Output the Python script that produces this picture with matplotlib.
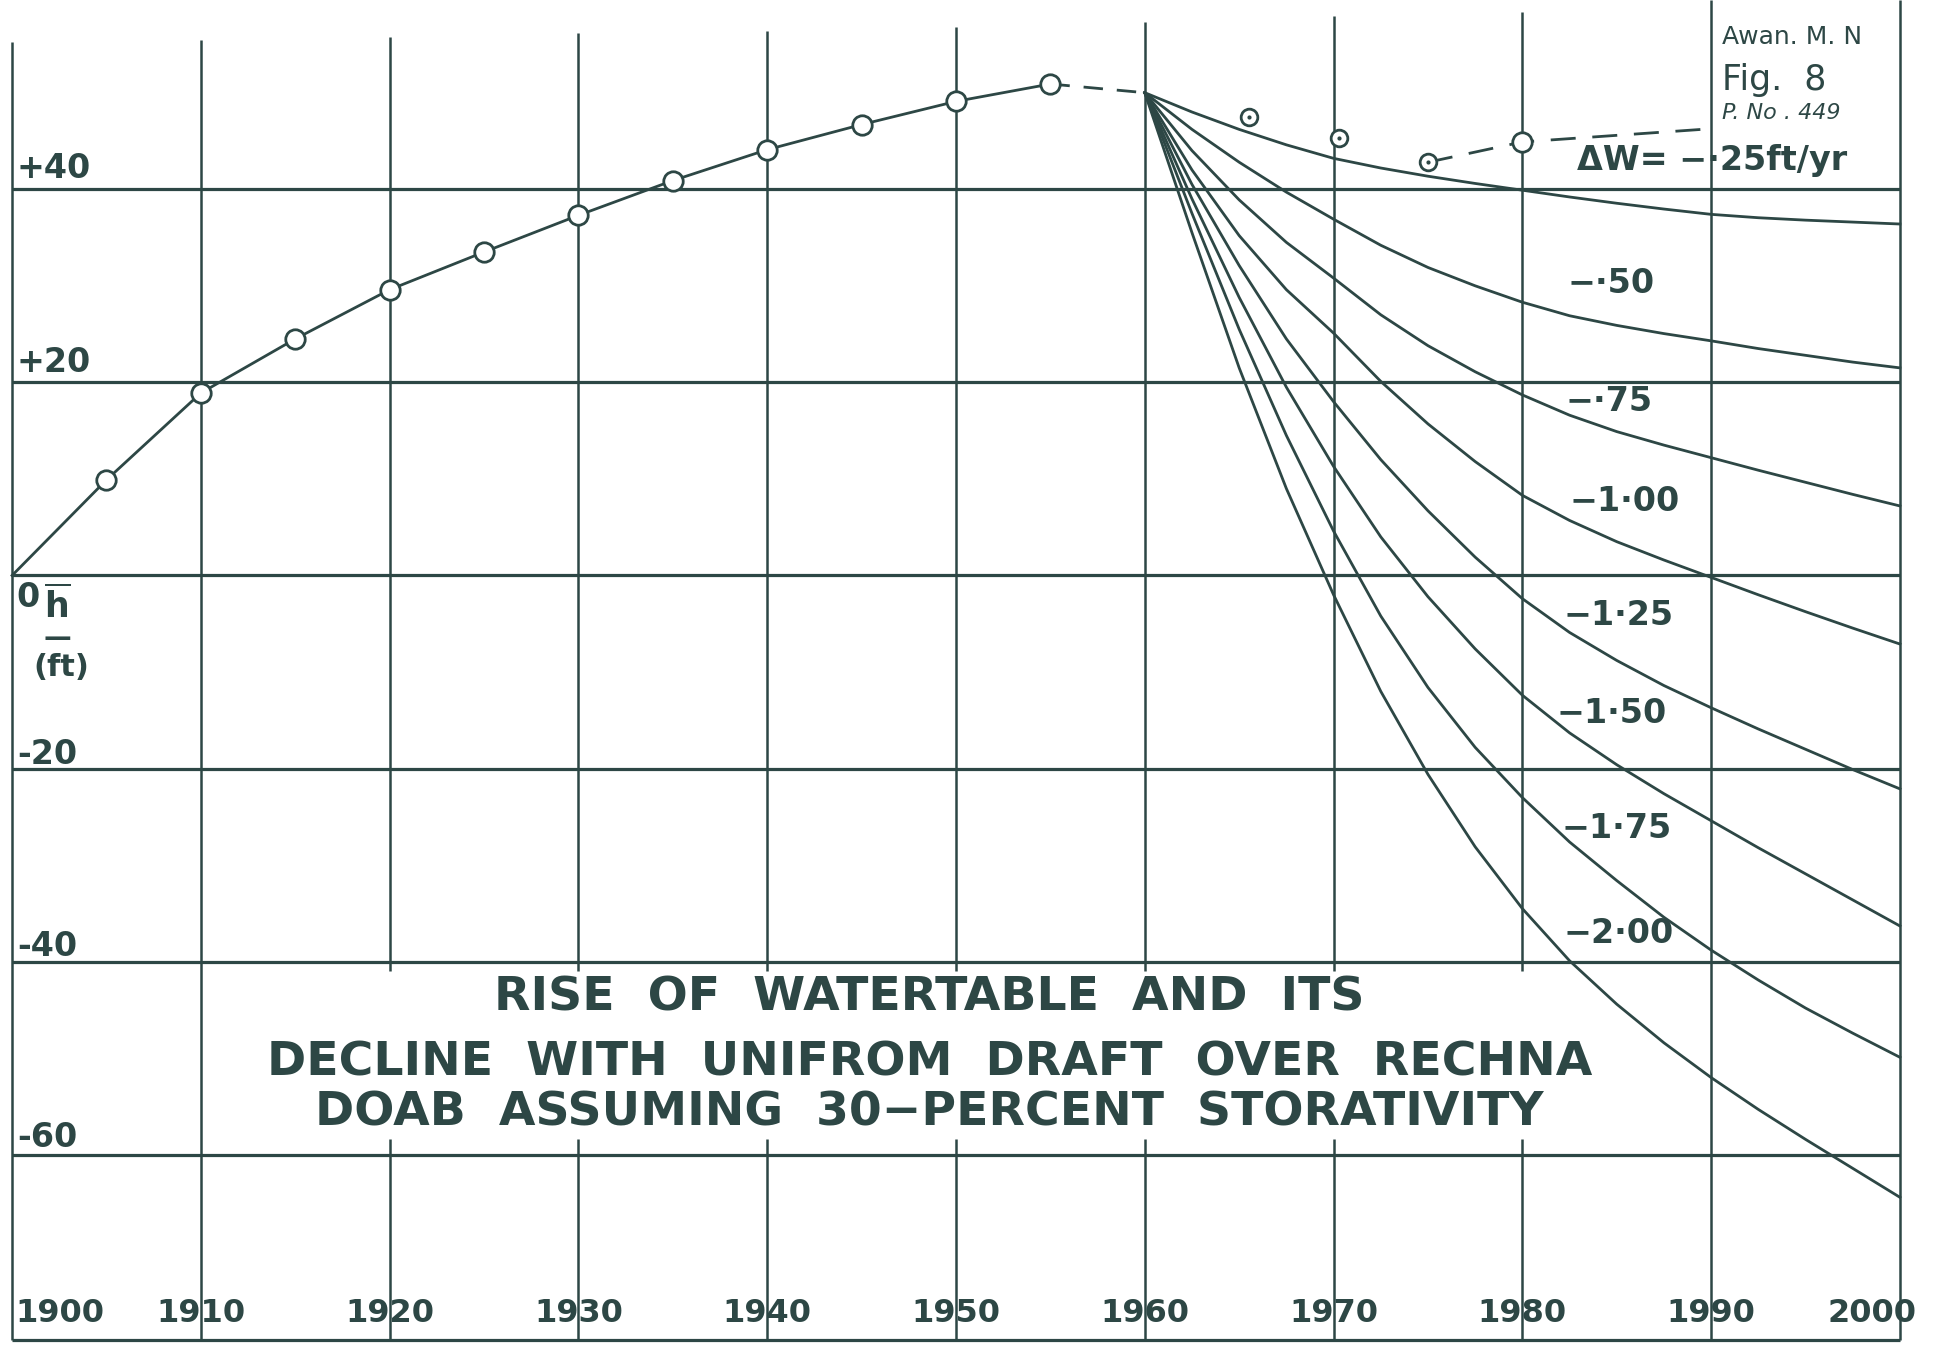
"""
Rise of watertable and its decline with uniform draft over Rechna Doab (Fig. 8)
"""
import matplotlib.pyplot as plt

# observed rise of the watertable, h (ft)
hist_years = [1900, 1905, 1910, 1915, 1920, 1925, 1930, 1935, 1940, 1945, 1950, 1955]
hist_h = [0, 9.9, 18.9, 24.5, 29.6, 33.5, 37.3, 40.9, 44.1, 46.7, 49.1, 50.9]

# dashed link from the last observed point to 1960
link_years = [1955, 1960]
link_h = [50.9, 50.0]

# later observations and their dashed trend
obs_years = [1965.5, 1970.3, 1975, 1980]
obs_h = [47.5, 45.3, 42.8, 44.9]
trend_years = [1975, 1980, 1989.5]
trend_h = [42.8, 44.9, 46.2]

# predicted decline after 1960 for each draft rate (read every 2.5 years)
fan_years = [1960, 1962.5, 1965, 1967.5, 1970, 1972.5, 1975, 1977.5, 1980,
             1982.5, 1985, 1987.5, 1990, 1992.5, 1995, 1997.5, 2000]
dw_025 = [50, 48.0, 46.2, 44.6, 43.2, 42.2, 41.35, 40.6, 39.9,
          39.2, 38.55, 37.95, 37.4, 37.05, 36.8, 36.6, 36.4]
dw_050 = [50, 46.2, 42.8, 39.7, 36.9, 34.2, 31.9, 30.0, 28.3,
          26.9, 25.9, 25.05, 24.3, 23.5, 22.8, 22.1, 21.5]
dw_075 = [50, 44.0, 38.9, 34.5, 30.8, 27.0, 23.8, 21.1, 18.7,
          16.6, 14.9, 13.5, 12.2, 10.9, 9.65, 8.4, 7.2]
dw_100 = [50, 42.0, 35.2, 29.6, 25.1, 20.1, 15.7, 11.8, 8.3,
          5.7, 3.5, 1.6, -0.2, -2.0, -3.75, -5.45, -7.1]
dw_125 = [50, 40.5, 32.1, 24.5, 18.0, 12.0, 6.7, 1.9, -2.4,
          -5.9, -8.8, -11.4, -13.7, -15.9, -18.0, -20.1, -22.1]
dw_150 = [50, 39.0, 28.8, 19.5, 11.3, 4.0, -2.2, -7.6, -12.4,
          -16.3, -19.6, -22.6, -25.4, -28.2, -30.9, -33.6, -36.3]
dw_175 = [50, 37.5, 25.5, 14.5, 4.6, -4.2, -11.6, -17.8, -23.0,
          -27.6, -31.6, -35.4, -38.8, -41.9, -44.8, -47.4, -49.9]
dw_200 = [50, 35.5, 21.5, 9.0, -2.0, -12.0, -20.6, -28.1, -34.5,
          -39.9, -44.4, -48.4, -52.0, -55.3, -58.4, -61.4, -64.4]
fan = [dw_025, dw_050, dw_075, dw_100, dw_125, dw_150, dw_175, dw_200]

curve_labels = ['ΔW= −·25ft/yr', '−·50', '−·75', '−1·00',
                '−1·25', '−1·50', '−1·75', '−2·00']

decades = [1900, 1910, 1920, 1930, 1940, 1950, 1960, 1970, 1980, 1990, 2000]
h_levels = [40, 20, 0, -20, -40, -60]
y_tick_labels = ['+40', '+20', '0', '-20', '-40', '-60']

title_lines = ['RISE  OF  WATERTABLE  AND  ITS',
               'DECLINE  WITH  UNIFROM  DRAFT  OVER  RECHNA',
               'DOAB  ASSUMING  30−PERCENT  STORATIVITY']

# layout (data units)
grid_tops = [55.2, 55.5, 55.75, 56.2, 56.4, 56.8, 57.3, 57.9, 58.4, 59.6, 59.6]
label_x = [1982.9, 1982.4, 1982.3, 1982.5, 1982.2, 1981.8, 1982.1, 1982.2]
label_y = [43.0, 30.2, 18.0, 7.7, -4.1, -14.3, -26.2, -37.1]
ytick_y = [42.1, 22.1, -2.3, -18.5, -38.4, -58.2]
title_y = [-43.8, -50.5, -55.7]
bottom = -79.2

plt.rcParams['font.family'] = ['DejaVu Sans']
ink = '#2d4745'

fig = plt.figure(figsize=(19.39, 13.46), dpi=100)
ax = fig.add_axes([0, 0, 1, 1])
ax.set_xlim(1899.36, 2002.07)
ax.set_ylim(-79.8, 59.6)
ax.axis('off')

# grid: horizontal levels, bottom edge, vertical decades
for y in h_levels:
    ax.hlines(y, 1900, 2000, color=ink, lw=2.3, zorder=1)
ax.hlines(bottom, 1900, 2000, color=ink, lw=2.3, zorder=1)
for x, top in zip(decades, grid_tops):
    if 1920 <= x <= 1980:
        # gap left for the title block
        ax.vlines(x, bottom, -58.4, color=ink, lw=1.8, zorder=1)
        ax.vlines(x, -41.0, top, color=ink, lw=1.8, zorder=1)
    else:
        ax.vlines(x, bottom, top, color=ink, lw=1.8, zorder=1)

# observed rise
ax.plot(hist_years, hist_h, color=ink, lw=2.0, zorder=2)
ax.plot(hist_years[1:], hist_h[1:], 'o', ms=14, mfc='white', mec=ink,
        mew=2.0, zorder=3)
ax.plot(link_years, link_h, color=ink, lw=2.0, ls=(0, (7, 5)), zorder=2)

# decline curves
for vals in fan:
    ax.plot(fan_years, vals, color=ink, lw=2.0, zorder=2)

# later observations
ax.plot(trend_years, trend_h, color=ink, lw=2.0, ls=(0, (9, 6)), zorder=2)
ax.plot(obs_years[:3], obs_h[:3], 'o', ms=12, mfc='white', mec=ink,
        mew=2.0, zorder=3)
ax.plot(obs_years[:3], obs_h[:3], '.', ms=4, color=ink, zorder=4)
ax.plot(obs_years[3:], obs_h[3:], 'o', ms=14, mfc='white', mec=ink,
        mew=2.0, zorder=3)

# curve labels
for txt, x, y in zip(curve_labels, label_x, label_y):
    ax.text(x, y, txt, fontsize=24, color=ink, ha='left', va='center',
            fontweight='bold', zorder=5)

# axis labels inside the frame
for txt, y in zip(y_tick_labels, ytick_y):
    ax.text(1900.25, y, txt, fontsize=24, color=ink, ha='left', va='center',
            fontweight='bold')
ax.text(1902.4, -3.1, r'$\mathbf{\overline{h}}$', fontsize=25, color=ink,
        ha='center', va='center')
ax.text(1902.4, -6.5, '—', fontsize=20, color=ink, ha='center', va='center',
        fontweight='bold')
ax.text(1902.6, -9.5, '(ft)', fontsize=22, color=ink, ha='center', va='center',
        fontweight='bold')

for x in decades:
    if x == 1900:
        ax.text(1900.2, -76.4, str(x), fontsize=23, color=ink, ha='left',
                va='center', fontweight='bold')
    elif x == 2000:
        ax.text(1998.5, -76.4, str(x), fontsize=23, color=ink, ha='center',
                va='center', fontweight='bold')
    else:
        ax.text(x, -76.4, str(x), fontsize=23, color=ink, ha='center',
                va='center', fontweight='bold')

# title block
for line, y in zip(title_lines, title_y):
    ax.text(1948.6, y, line, fontsize=34, color=ink, ha='center', va='center',
            fontweight='bold')

# corner annotation
ax.text(1990.6, 55.8, 'Awan. M. N', fontsize=18, color=ink, ha='left', va='center')
ax.text(1990.6, 51.3, 'Fig.  8', fontsize=25, color=ink, ha='left', va='center')
ax.text(1990.6, 47.9, 'P. No . 449', fontsize=16, color=ink, ha='left',
        va='center', style='italic')

fig.savefig('out.png', dpi=100, facecolor='white')
plt.close(fig)
